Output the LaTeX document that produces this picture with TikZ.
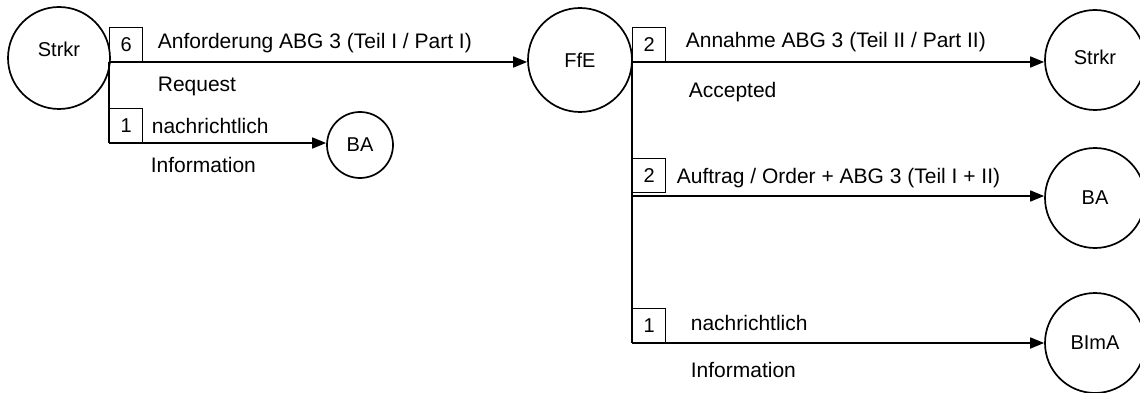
\documentclass[tikz,border=0pt]{standalone}
\usepackage{fontspec}
\setmainfont{Liberation Sans}
\usetikzlibrary{arrows.meta}
\begin{document}
\begin{tikzpicture}[x=1pt,y=-1pt,
  line width=1.7pt,
  circ/.style={draw,circle,inner sep=0pt},
  ctext/.style={inner sep=0pt,font=\fontsize{20}{22}\selectfont},
  numbox/.style={draw,line width=1.4pt,minimum width=33pt,minimum height=34pt,inner sep=0pt,anchor=south west,font=\fontsize{20}{22}\selectfont},
  lbl/.style={anchor=base west,inner sep=0pt,font=\fontsize{21}{24}\selectfont},
  arr/.style={-{Triangle[length=14pt,width=11pt]}}]
\useasboundingbox (0,0) rectangle (1140,393);
\clip (0,0) rectangle (1140,393);
% circles
\node[circ,minimum size=102pt] (S1) at (59,58) {};
\node[circ,minimum size=104pt] (F) at (580,60) {};
\node[circ,minimum size=66pt] (BA1) at (360,145) {};
\node[circ,minimum size=100pt] (S2) at (1095,60) {};
\node[circ,minimum size=100pt] (BA2) at (1095,198) {};
\node[circ,minimum size=100pt] (B) at (1095,343) {};
\node[ctext] (tS1) at (59,49) {Strkr};
\node[ctext] (tF) at (F.center) {FfE};
\node[ctext] (tBA1) at (BA1.center) {BA};
\node[ctext] (tS2) at (1095,57) {Strkr};
\node[ctext] (tBA2) at (BA2.center) {BA};
\node[ctext] (tB) at (B.center) {BImA};
% junctions
\coordinate (j1) at (109,62);
\coordinate (j2) at (109,143);
\coordinate (j3) at (632,62);
\coordinate (j4) at (632,196);
\coordinate (j5) at (632,343);
% connectors
\draw (j1) -- (j2);
\draw[arr] (j1) -- (j1 -| F.west);
\draw[arr] (j2) -- (j2 -| BA1.west);
\draw (j3) -- (j5);
\draw[arr] (j3) -- (j3 -| S2.west);
\draw[arr] (j4) -- (j4 -| BA2.west);
\draw[arr] (j5) -- (j5 -| B.west);
% number boxes
\node[numbox] (n6) at (j1) {6};
\node[numbox] (n1a) at (j2) {1};
\node[numbox] (n2a) at (j3) {2};
\node[numbox] (n2b) at (632,193) {2};
\node[numbox] (n1b) at (j5) {1};
% labels
\node[lbl] (l1) at (157,49) {Anforderung ABG 3 (Teil I / Part I)};
\node[lbl] (l2) at (157,92) {Request};
\node[lbl] (l3) at (151,133) {nachrichtlich};
\node[lbl] (l4) at (150,172) {Information};
\node[lbl] (l5) at (685,48) {Annahme ABG 3 (Teil II / Part II)};
\node[lbl] (l6) at (688,98) {Accepted};
\node[lbl] (l7) at (676,183) {Auftrag / Order + ABG 3 (Teil I + II)};
\node[lbl] (l8) at (690,330) {nachrichtlich};
\node[lbl] (l9) at (690,377) {Information};
\end{tikzpicture}
\end{document}
